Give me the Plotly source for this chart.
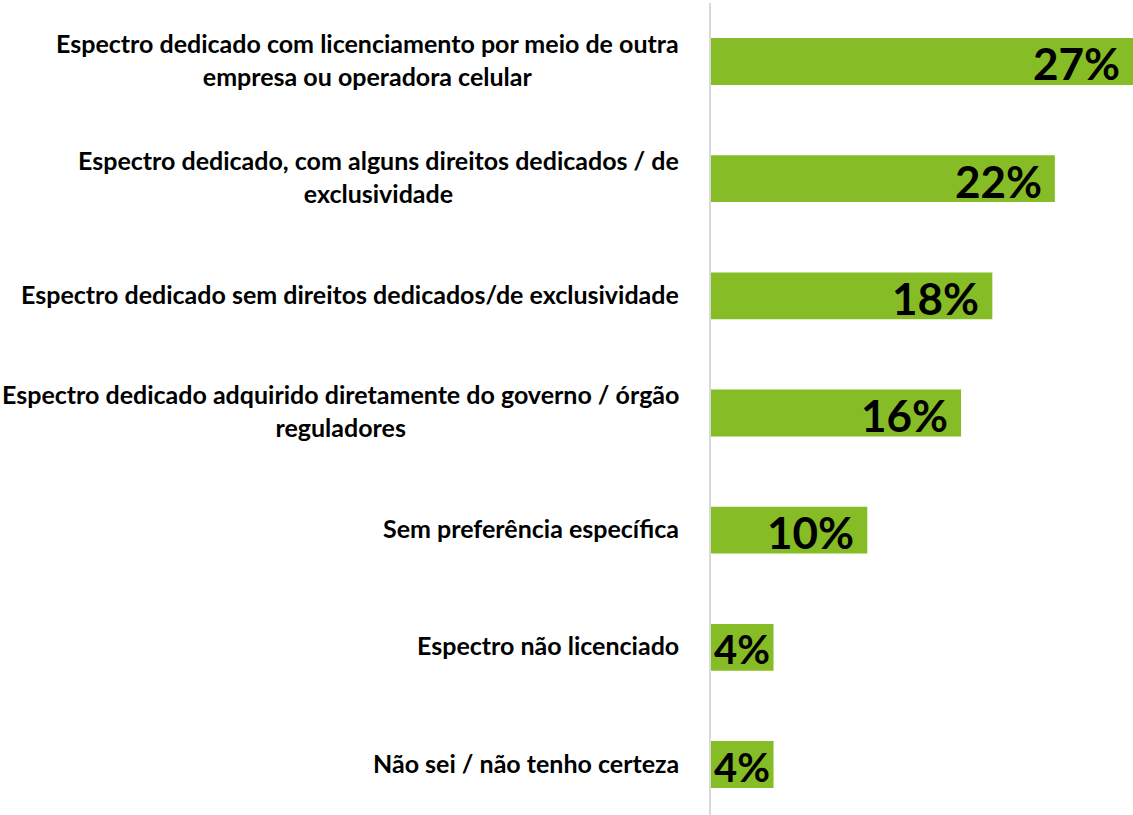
import plotly.graph_objects as go

categories = [
    "Espectro dedicado com licenciamento por meio de outra<br>empresa ou operadora celular",
    "Espectro dedicado, com alguns direitos dedicados / de<br>exclusividade",
    "Espectro dedicado sem direitos dedicados/de exclusividade",
    "Espectro dedicado adquirido diretamente do governo / órgão<br>reguladores",
    "Sem preferência específica",
    "Espectro não licenciado",
    "Não sei / não tenho certeza",
]
values = [27, 22, 18, 16, 10, 4, 4]
value_labels = ["27%", "22%", "18%", "16%", "10%", "4%", "4%"]

GREEN = "#86BC25"
FONT = "Lato"

fig = go.Figure()
fig.add_trace(go.Bar(
    y=list(range(len(categories))),
    x=values,
    orientation="h",
    width=0.4,
    marker=dict(color=GREEN, line=dict(width=0)),
    hoverinfo="skip",
))

for i, (v, t) in enumerate(zip(values, value_labels)):
    big = v >= 8
    fig.add_annotation(
        xref="x", yref="y", x=v if big else v / 2, y=i,
        xanchor="right" if big else "center", yanchor="middle",
        xshift=-11 if big else 0, yshift=-2,
        text=t, showarrow=False,
        font=dict(family=FONT, size=44 if big else 40, color="black", weight="bold"),
    )

for i, c in enumerate(categories):
    fig.add_annotation(
        xref="paper", yref="y", x=0, y=i, xanchor="right", yanchor="middle",
        xshift=-30, yshift=2, text=c, showarrow=False, align="center",
        font=dict(family=FONT, size=25, color="black", weight="bold"),
    )

fig.update_layout(
    width=1133, height=815,
    margin=dict(l=711, r=0, t=3, b=0),
    paper_bgcolor="white", plot_bgcolor="white",
    showlegend=False,
    xaxis=dict(range=[0, 27], visible=False, fixedrange=True),
    yaxis=dict(range=[6.431, -0.499], showticklabels=False, showgrid=False,
               zeroline=False, showline=True, linecolor="#D9D9D9", linewidth=2,
               ticks="", fixedrange=True),
)

fig.write_html(
    "out.html",
    config={"displayModeBar": False, "staticPlot": True},
    post_script="document.body.style.margin='0';document.body.style.overflow='hidden';",
)
